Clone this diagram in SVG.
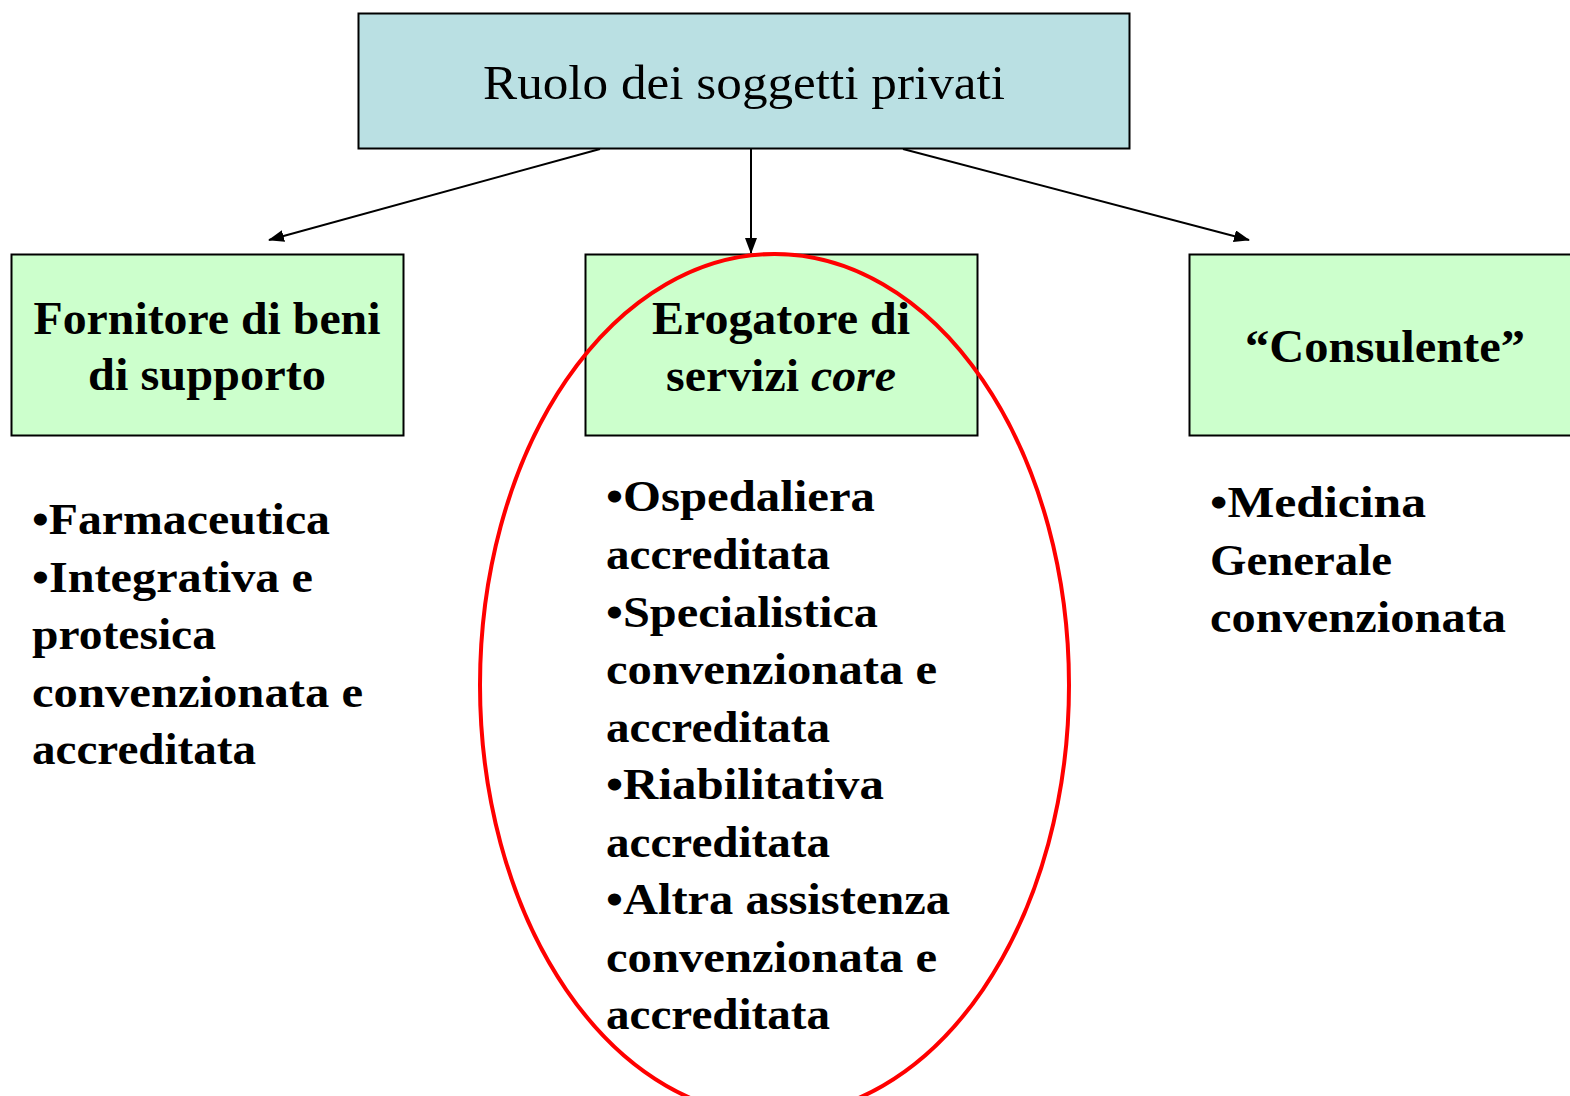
<svg xmlns="http://www.w3.org/2000/svg" width="1570" height="1096" viewBox="0 0 1570 1096">
<style>
.t{font-family:"Liberation Serif","DejaVu Serif",serif;fill:#000}
.h{font-size:46px;font-weight:bold}
.b{font-size:44px;font-weight:bold}
.box{stroke:#000;stroke-width:2}
.c{stroke:#000;stroke-width:2;fill:none}
</style>
<defs>
<marker id="ah" markerWidth="16" markerHeight="12" refX="15" refY="6" orient="auto" markerUnits="userSpaceOnUse">
<path d="M0,0 L16,6 L0,12 z" fill="#000"/>
</marker>
</defs>
<rect width="1570" height="1096" fill="#fff"/>
<g id="connectors">
<line class="c" x1="600" y1="149" x2="269" y2="240" marker-end="url(#ah)"/>
<line class="c" x1="751" y1="149" x2="751" y2="253" marker-end="url(#ah)"/>
<line class="c" x1="903" y1="149" x2="1249" y2="240" marker-end="url(#ah)"/>
</g>
<g id="root">
<rect class="box" x="358.5" y="13.5" width="771" height="135" fill="#BAE0E3"/>
<text class="t" x="744" y="99" font-size="48" text-anchor="middle" textLength="522" lengthAdjust="spacingAndGlyphs">Ruolo dei soggetti privati</text>
</g>
<g id="fornitore">
<rect class="box" x="11.5" y="254.5" width="392" height="181" fill="#CCFFCC"/>
<text class="t h" x="207" y="334" text-anchor="middle" textLength="347" lengthAdjust="spacingAndGlyphs">Fornitore di beni</text>
<text class="t h" x="207" y="390" text-anchor="middle" textLength="238" lengthAdjust="spacingAndGlyphs">di supporto</text>
</g>
<g id="erogatore">
<rect class="box" x="585.5" y="254.5" width="392" height="181" fill="#CCFFCC"/>
<text class="t h" x="781" y="334" text-anchor="middle" textLength="258" lengthAdjust="spacingAndGlyphs">Erogatore di</text>
<text class="t h" x="781" y="391" text-anchor="middle" textLength="230" lengthAdjust="spacingAndGlyphs">servizi <tspan font-style="italic">core</tspan></text>
</g>
<g id="consulente">
<rect class="box" x="1189.5" y="254.5" width="392" height="181" fill="#CCFFCC"/>
<text class="t h" x="1385" y="362" text-anchor="middle" textLength="280" lengthAdjust="spacingAndGlyphs">“Consulente”</text>
</g>
<g id="ellipse">
<ellipse cx="774.5" cy="685" rx="294.5" ry="431" fill="none" stroke="#FF0000" stroke-width="4"/>
</g>
<g id="list-fornitore" class="t b">
<text x="32" y="534" textLength="298" lengthAdjust="spacingAndGlyphs">•Farmaceutica</text>
<text x="32" y="592" textLength="281" lengthAdjust="spacingAndGlyphs">•Integrativa e</text>
<text x="32" y="649" textLength="184" lengthAdjust="spacingAndGlyphs">protesica</text>
<text x="32" y="707" textLength="331" lengthAdjust="spacingAndGlyphs">convenzionata e</text>
<text x="32" y="764" textLength="224" lengthAdjust="spacingAndGlyphs">accreditata</text>
</g>
<g id="list-erogatore" class="t b">
<text x="606" y="511" textLength="269" lengthAdjust="spacingAndGlyphs">•Ospedaliera</text>
<text x="606" y="569" textLength="224" lengthAdjust="spacingAndGlyphs">accreditata</text>
<text x="606" y="627" textLength="272" lengthAdjust="spacingAndGlyphs">•Specialistica</text>
<text x="606" y="684" textLength="331" lengthAdjust="spacingAndGlyphs">convenzionata e</text>
<text x="606" y="742" textLength="224" lengthAdjust="spacingAndGlyphs">accreditata</text>
<text x="606" y="799" textLength="278" lengthAdjust="spacingAndGlyphs">•Riabilitativa</text>
<text x="606" y="857" textLength="224" lengthAdjust="spacingAndGlyphs">accreditata</text>
<text x="606" y="914" textLength="344" lengthAdjust="spacingAndGlyphs">•Altra assistenza</text>
<text x="606" y="972" textLength="331" lengthAdjust="spacingAndGlyphs">convenzionata e</text>
<text x="606" y="1029" textLength="224" lengthAdjust="spacingAndGlyphs">accreditata</text>
</g>
<g id="list-consulente" class="t b">
<text x="1210" y="517" textLength="216" lengthAdjust="spacingAndGlyphs">•Medicina</text>
<text x="1210" y="575" textLength="182" lengthAdjust="spacingAndGlyphs">Generale</text>
<text x="1210" y="632" textLength="296" lengthAdjust="spacingAndGlyphs">convenzionata</text>
</g>
</svg>
